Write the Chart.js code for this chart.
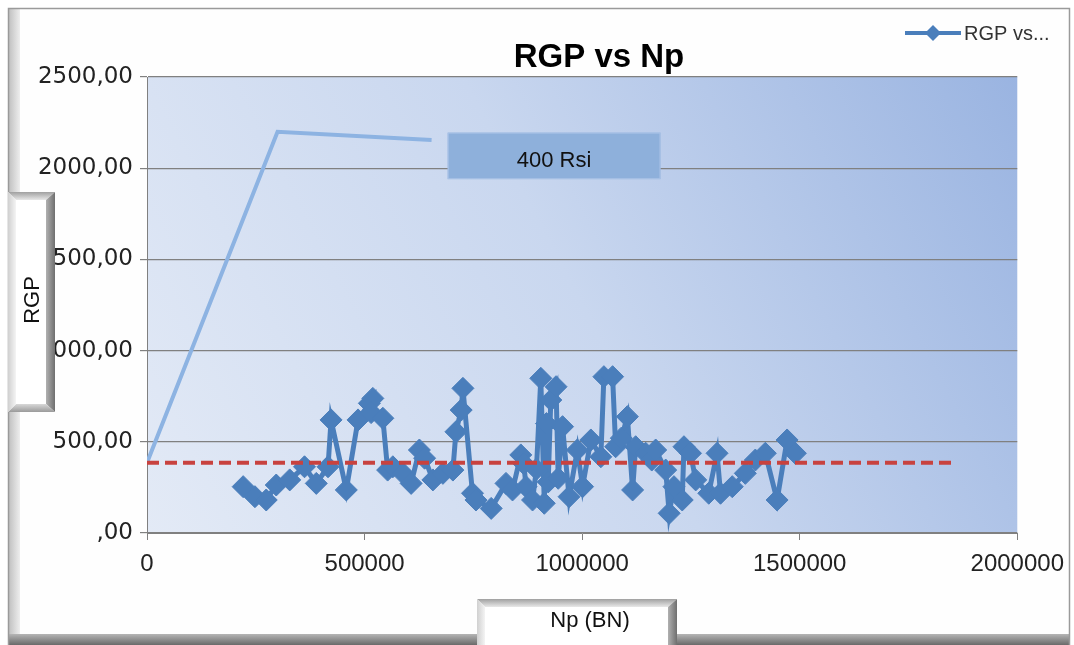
<!DOCTYPE html>
<html>
<head>
<meta charset="utf-8">
<script src="https://cdn.jsdelivr.net/npm/chart.js@4.4.1/dist/chart.umd.min.js"></script>
<style>
html,body{margin:0;padding:0;background:#ffffff;}
#wrap{width:1074px;height:645px;position:relative;}
</style>
</head>
<body>
<div id="wrap"><canvas id="c" width="1074" height="645"></canvas></div>
<script>
// ---- data ----
const npValues = [221000, 248000, 274000, 297000, 328000, 362000, 389000, 416000, 423000, 458000,
  485000, 511000, 519000, 515000, 542000, 553000, 565000, 588000, 607000, 626000,
  638000, 657000, 680000, 703000, 710000, 722000, 726000, 748000, 756000, 791000,
  825000, 840000, 859000, 866000, 871000, 886000, 895000, 905000, 913000, 918000,
  922000, 928000, 940000, 945000, 955000, 970000, 989000, 1001000, 1020000, 1043000,
  1050000, 1070000, 1077000, 1090000, 1104000, 1116000, 1123000, 1146000, 1160000, 1169000,
  1192000, 1200000, 1211000, 1230000, 1234000, 1249000, 1261000, 1291000, 1310000, 1318000,
  1345000, 1375000, 1398000, 1421000, 1448000, 1471000, 1490000];
const rgpValues = [254, 199, 181, 263, 291, 363, 272, 363, 620, 236,
  620, 711, 738, 660, 629, 345, 363, 327, 272, 455,
  410, 291, 327, 345, 555, 674, 793, 218, 181, 135,
  272, 236, 428, 380, 254, 181, 350, 848, 163, 600,
  280, 729, 802, 300, 583, 199, 455, 254, 510, 418,
  857, 857, 473, 520, 638, 236, 473, 437, 400, 455,
  345, 108, 254, 181, 473, 437, 291, 218, 437, 218,
  254, 327, 400, 437, 181, 510, 437];
const refLineX = [0, 1850000];
const refLineY = [385, 385];
const leaderX = [0, 300000, 654000];
const leaderY = [385, 2200, 2155];
const calloutText = "400 Rsi";
const calloutRange = {x0: 691000, x1: 1180000, y0: 2195, y1: 1940};
const titleText = "RGP vs Np";
const yTitle = "RGP";
const xTitle = "Np (BN)";
const legendText = "RGP vs...";
const yMin = 0, yMax = 2500, yStep = 500;
const xMin = 0, xMax = 2000000, xStep = 500000;

const toPts = (xs, ys) => xs.map((x, i) => ({x: x, y: ys[i]}));
const FONT = "'Liberation Sans', Arial, sans-serif";
const YFONT = "'DejaVu Sans', sans-serif";
const BLUE = '#4a7ebb';

function bevelBox(ctx, x, y, w, h) {
  ctx.save();
  ctx.fillStyle = '#ffffff';
  ctx.fillRect(x, y, w, h);
  let g = ctx.createLinearGradient(0, y, 0, y + 8);
  g.addColorStop(0, '#a0a0a0'); g.addColorStop(1, '#e8e8e8');
  ctx.fillStyle = g;
  ctx.beginPath(); ctx.moveTo(x, y); ctx.lineTo(x + w, y); ctx.lineTo(x + w - 9, y + 8); ctx.lineTo(x + 8, y + 8); ctx.closePath(); ctx.fill();
  g = ctx.createLinearGradient(x + w - 10, 0, x + w, 0);
  g.addColorStop(0, '#b8b8b8'); g.addColorStop(1, '#6f6f6f');
  ctx.fillStyle = g;
  ctx.beginPath(); ctx.moveTo(x + w, y); ctx.lineTo(x + w, y + h); ctx.lineTo(x + w - 9, y + h - 8); ctx.lineTo(x + w - 9, y + 8); ctx.closePath(); ctx.fill();
  g = ctx.createLinearGradient(0, y + h - 8, 0, y + h);
  g.addColorStop(0, '#d8d8d8'); g.addColorStop(1, '#9a9a9a');
  ctx.fillStyle = g;
  ctx.beginPath(); ctx.moveTo(x, y + h); ctx.lineTo(x + w, y + h); ctx.lineTo(x + w - 9, y + h - 8); ctx.lineTo(x + 8, y + h - 8); ctx.closePath(); ctx.fill();
  g = ctx.createLinearGradient(x, 0, x + 8, 0);
  g.addColorStop(0, '#d0d0d0'); g.addColorStop(1, '#f4f4f4');
  ctx.fillStyle = g;
  ctx.beginPath(); ctx.moveTo(x, y); ctx.lineTo(x + 8, y + 8); ctx.lineTo(x + 8, y + h - 8); ctx.lineTo(x, y + h); ctx.closePath(); ctx.fill();
  ctx.restore();
}

const decor = {
  id: 'decor',
  beforeDraw(chart) {
    const ctx = chart.ctx, a = chart.chartArea;
    ctx.save();
    ctx.fillStyle = '#ffffff';
    ctx.fillRect(0, 0, chart.width, chart.height);
    ctx.fillStyle = '#fefefe';
    ctx.fillRect(8, 8, 1062, 634);
    let g = ctx.createLinearGradient(8, 0, 22, 0);
    g.addColorStop(0, '#bdbdbd'); g.addColorStop(1, '#f6f6f6');
    ctx.fillStyle = g; ctx.fillRect(8, 8, 12, 634);
    g = ctx.createLinearGradient(0, 634, 0, 645);
    g.addColorStop(0, '#b5b5b5'); g.addColorStop(1, '#6a6a6a');
    ctx.fillStyle = g; ctx.fillRect(8, 634, 1062, 11);
    ctx.strokeStyle = '#9a9a9a'; ctx.lineWidth = 1.5;
    ctx.beginPath(); ctx.moveTo(8.5, 645); ctx.lineTo(8.5, 8.5); ctx.lineTo(1069.5, 8.5); ctx.lineTo(1069.5, 645); ctx.stroke();
    g = ctx.createLinearGradient(a.left, a.bottom, a.right, a.top);
    g.addColorStop(0, '#e3eaf6');
    g.addColorStop(0.5, '#c9d7ef');
    g.addColorStop(1, '#9ab4e1');
    ctx.fillStyle = g;
    ctx.fillRect(a.left, a.top, a.right - a.left, a.bottom - a.top);
    ctx.restore();
  },
  afterDraw(chart) {
    const ctx = chart.ctx, xs = chart.scales.x, ys = chart.scales.y;
    ctx.save();
    const bx0 = xs.getPixelForValue(calloutRange.x0), bx1 = xs.getPixelForValue(calloutRange.x1);
    const by0 = ys.getPixelForValue(calloutRange.y0), by1 = ys.getPixelForValue(calloutRange.y1);
    ctx.fillStyle = '#8eb0db';
    ctx.fillRect(bx0, by0, bx1 - bx0, by1 - by0);
    ctx.strokeStyle = '#a9c2e6'; ctx.lineWidth = 1;
    ctx.strokeRect(bx0 + 0.5, by0 + 0.5, bx1 - bx0 - 1, by1 - by0 - 1);
    ctx.fillStyle = '#111111';
    ctx.font = "22px " + FONT;
    ctx.textAlign = 'center'; ctx.textBaseline = 'middle';
    ctx.fillText(calloutText, (bx0 + bx1) / 2, (by0 + by1) / 2 + 5);
    ctx.fillStyle = '#000000';
    ctx.font = "bold 33px " + FONT;
    ctx.fillText(titleText, 599, 58);
    ctx.strokeStyle = BLUE; ctx.lineWidth = 4;
    ctx.beginPath(); ctx.moveTo(905, 33); ctx.lineTo(961, 33); ctx.stroke();
    ctx.fillStyle = BLUE;
    ctx.beginPath(); ctx.moveTo(933, 25); ctx.lineTo(941, 33); ctx.lineTo(933, 41); ctx.lineTo(925, 33); ctx.closePath(); ctx.fill();
    ctx.fillStyle = '#333333';
    ctx.font = "20px " + FONT;
    ctx.textAlign = 'left';
    ctx.fillText(legendText, 964, 34);
    bevelBox(ctx, 8, 192, 47, 220);
    ctx.save();
    ctx.translate(33, 300); ctx.rotate(-Math.PI / 2);
    ctx.fillStyle = '#111111'; ctx.font = "22px " + FONT; ctx.textAlign = 'center'; ctx.textBaseline = 'middle';
    ctx.fillText(yTitle, 0, 0);
    ctx.restore();
    bevelBox(ctx, 477, 599, 200, 56);
    ctx.fillStyle = '#111111'; ctx.font = "22px " + FONT; ctx.textAlign = 'center'; ctx.textBaseline = 'middle';
    ctx.fillText(xTitle, 590, 621);
    ctx.restore();
  }
};

new Chart(document.getElementById('c'), {
  type: 'line',
  data: {
    datasets: [
      {
        label: 'ref',
        data: toPts(refLineX, refLineY),
        borderColor: '#c8423f', borderWidth: 4, borderDash: [12, 6],
        pointRadius: 0, fill: false
      },
      {
        label: legendText,
        data: toPts(npValues, rgpValues),
        borderColor: BLUE, backgroundColor: BLUE, borderWidth: 5,
        pointStyle: 'rectRot', pointRadius: 11, pointBorderWidth: 1,
        pointBackgroundColor: BLUE, pointBorderColor: BLUE,
        tension: 0, fill: false
      },
      {
        label: 'leader',
        data: toPts(leaderX, leaderY),
        borderColor: '#8db3e2', borderWidth: 4,
        pointRadius: 0, fill: false
      }
    ]
  },
  options: {
    responsive: false,
    animation: false,
    layout: {padding: {left: 0, top: 77, right: 55, bottom: 0}},
    plugins: {legend: {display: false}, title: {display: false}, tooltip: {enabled: false}},
    scales: {
      x: {
        type: 'linear', min: xMin, max: xMax,
        ticks: {stepSize: xStep, color: '#222222', font: {family: FONT, size: 24}, padding: 10,
          callback: v => String(v), maxRotation: 0},
        grid: {drawOnChartArea: false, drawTicks: true, tickLength: 7, color: '#808080'},
        border: {color: '#808080', width: 1},
        afterFit: s => { s.height = 112; }
      },
      y: {
        min: yMin, max: yMax,
        ticks: {stepSize: yStep, color: '#222222', font: {family: YFONT, size: 23}, padding: 7,
          callback: v => (v === 0 ? ',00' : v.toFixed(2).replace('.', ','))},
        grid: {color: '#808080', lineWidth: 1.2, tickLength: 7},
        border: {color: '#808080', width: 1},
        afterFit: s => { s.width = 147; }
      }
    }
  },
  plugins: [decor]
});
</script>
</body>
</html>
